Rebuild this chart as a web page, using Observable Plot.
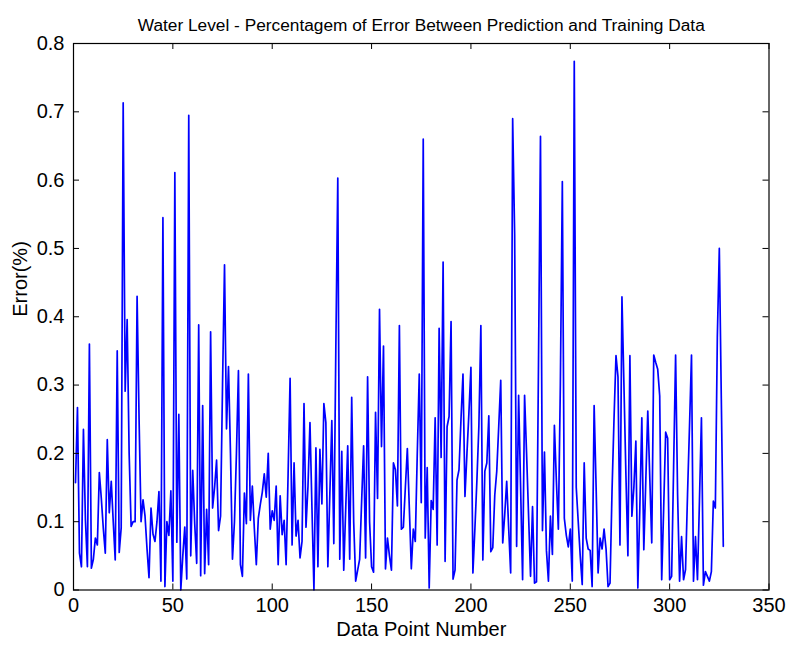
<!DOCTYPE html>
<html><head><meta charset="utf-8">
<script src="https://cdn.jsdelivr.net/npm/d3@7"></script>
<script src="https://cdn.jsdelivr.net/npm/@observablehq/plot@0.6"></script>
<style>body{margin:0;background:#fff} svg{display:block}</style>
</head><body><div id="chart"></div>
<script>
const errorValues = [
0.157,0.267,0.054,0.034,0.235,0.103,0.034,0.36,0.032,0.045,
0.076,0.066,0.172,0.134,0.09,0.054,0.22,0.113,0.159,0.1,
0.044,0.35,0.055,0.091,0.713,0.291,0.396,0.2,0.093,0.1,
0.1,0.43,0.25,0.1,0.132,0.108,0.06,0.018,0.12,0.082,
0.071,0.1,0.144,0.013,0.545,0.005,0.1,0.08,0.145,0.013,
0.611,0.07,0.257,0.0,0.05,0.092,0.016,0.695,0.05,0.175,
0.097,0.039,0.388,0.021,0.27,0.024,0.118,0.037,0.378,0.12,
0.15,0.19,0.087,0.108,0.3,0.476,0.236,0.327,0.2,0.045,
0.1,0.2,0.321,0.037,0.02,0.142,0.097,0.316,0.102,0.152,
0.09,0.037,0.105,0.125,0.143,0.17,0.136,0.2,0.089,0.116,
0.102,0.152,0.037,0.138,0.081,0.102,0.037,0.17,0.31,0.066,
0.186,0.079,0.102,0.047,0.071,0.273,0.092,0.152,0.245,0.12,
0.0,0.208,0.034,0.206,0.126,0.273,0.245,0.034,0.14,0.248,
0.068,0.35,0.603,0.045,0.203,0.029,0.12,0.211,0.045,0.282,
0.1,0.013,0.029,0.045,0.13,0.211,0.047,0.312,0.1,0.034,
0.026,0.26,0.134,0.411,0.21,0.357,0.031,0.076,0.05,0.029,
0.186,0.176,0.123,0.387,0.089,0.092,0.15,0.207,0.12,0.031,
0.089,0.071,0.2,0.316,0.128,0.66,0.076,0.179,0.003,0.131,
0.118,0.252,0.066,0.383,0.194,0.48,0.042,0.239,0.254,0.393,
0.016,0.029,0.161,0.176,0.25,0.316,0.137,0.2,0.26,0.326,
0.025,0.09,0.16,0.24,0.387,0.044,0.174,0.186,0.255,0.056,
0.062,0.139,0.174,0.24,0.307,0.069,0.11,0.159,0.09,0.025,
0.69,0.52,0.064,0.285,0.15,0.015,0.285,0.2,0.11,0.02,
0.122,0.01,0.012,0.33,0.664,0.087,0.202,0.058,0.013,0.108,
0.052,0.241,0.16,0.089,0.3,0.598,0.105,0.08,0.063,0.089,
0.013,0.774,0.15,0.1,0.05,0.008,0.186,0.076,0.06,0.058,
0.005,0.27,0.15,0.025,0.076,0.06,0.089,0.06,0.005,0.01,
0.144,0.25,0.343,0.312,0.066,0.429,0.3,0.168,0.05,0.343,
0.108,0.15,0.218,0.003,0.12,0.252,0.059,0.16,0.262,0.165,
0.069,0.344,0.333,0.323,0.284,0.015,0.12,0.231,0.222,0.015,
0.02,0.18,0.344,0.14,0.013,0.078,0.015,0.03,0.14,0.24,
0.344,0.013,0.078,0.015,0.13,0.252,0.007,0.027,0.02,0.013,
0.027,0.13,0.12,0.37,0.5,0.28,0.064
];
const xTicks = [0, 50, 100, 150, 200, 250, 300, 350];
const xTickLabels = ["0", "50", "100", "150", "200", "250", "300", "350"];
const yTicks = [0, 0.1, 0.2, 0.3, 0.4, 0.5, 0.6, 0.7, 0.8];
const yTickLabels = ["0", "0.1", "0.2", "0.3", "0.4", "0.5", "0.6", "0.7", "0.8"];
const titleText = "Water Level - Percentagem of Error Between Prediction and Training Data";
const xLabel = "Data Point Number";
const yLabel = "Error(%)";

const data = errorValues.map((v, i) => ({n: i + 1, err: v}));
const font = "Arial, 'Liberation Sans', Helvetica, sans-serif";
const tl = 6;
const xMin = xTicks[0], xMax = xTicks[xTicks.length - 1];
const yMin = yTicks[0], yMax = yTicks[yTicks.length - 1];

const chart = Plot.plot({
  width: 789, height: 649,
  marginTop: 43, marginBottom: 59.5, marginLeft: 73, marginRight: 20.5,
  style: {fontFamily: font, background: "white", color: "black", overflow: "visible"},
  x: {domain: [xMin, xMax]},
  y: {domain: [yMin, yMax]},
  marks: [
    Plot.line(data, {x: "n", y: "err", stroke: "#0000ff", strokeWidth: 1.7}),
    Plot.ruleX(xTicks, {x: d => d, y1: yMin, y2: yMin, insetBottom: tl, stroke: "black"}),
    Plot.ruleX(xTicks, {x: d => d, y1: yMax, y2: yMax, insetTop: tl, stroke: "black"}),
    Plot.ruleY(yTicks, {y: d => d, x1: xMin, x2: xMin, insetRight: -tl, stroke: "black"}),
    Plot.ruleY(yTicks, {y: d => d, x1: xMax, x2: xMax, insetLeft: -tl, stroke: "black"}),
    Plot.frame({stroke: "black", strokeWidth: 1.2}),
    Plot.axisX(xTicks, {anchor: "bottom", tickSize: 0, tickPadding: 8, fontSize: 20, label: null,
      tickFormat: (d, i) => xTickLabels[i], fill: "black"}),
    Plot.axisY(yTicks, {anchor: "left", tickSize: 0, tickPadding: 9, fontSize: 20, label: null,
      tickFormat: (d, i) => yTickLabels[i], fill: "black"}),
    Plot.text([titleText], {text: d => d, frameAnchor: "top", dy: -25, fontSize: 17.3, fill: "black"}),
    Plot.text([xLabel], {text: d => d, frameAnchor: "bottom", dy: 46, fontSize: 20, fill: "black"}),
    Plot.text([yLabel], {text: d => d, frameAnchor: "left", dx: -53, rotate: -90, fontSize: 20, fill: "black"})
  ]
});
document.getElementById("chart").appendChild(chart);
</script>
</body></html>
